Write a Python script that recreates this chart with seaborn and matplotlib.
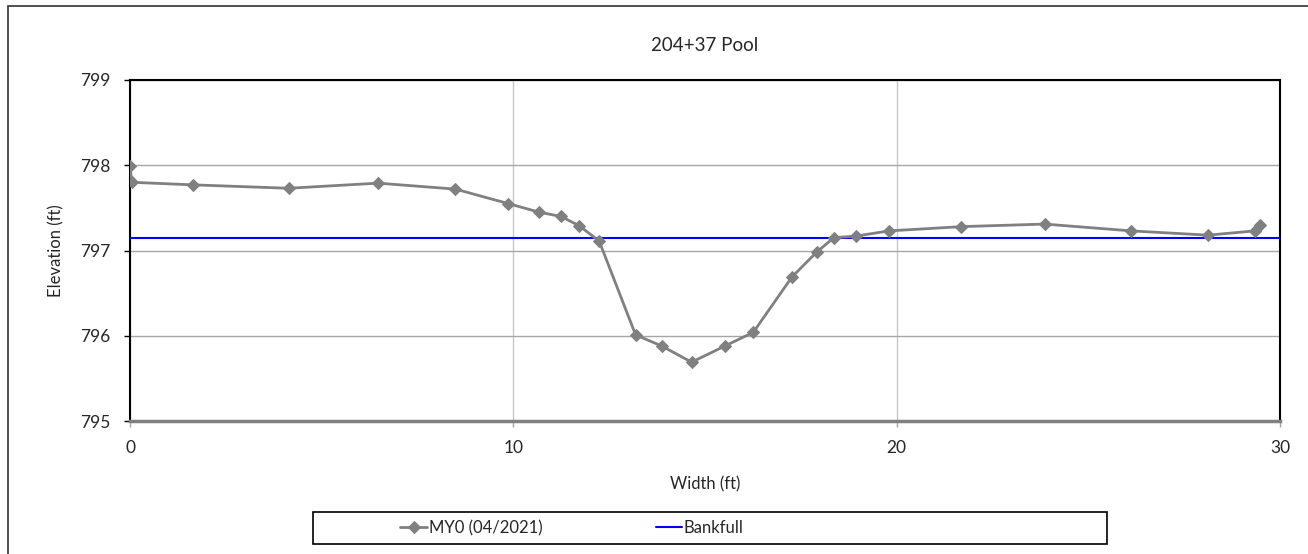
import seaborn as sns
import matplotlib.pyplot as plt
import pandas as pd
from matplotlib.patches import Rectangle

# cross section 204+37 pool, MY0 survey
width = [0.0, 0.05, 1.65, 4.14, 6.47, 8.49, 9.87, 10.67, 11.24, 11.72, 12.24,
         13.19, 13.87, 14.65, 15.52, 16.26, 17.27, 17.91, 18.36, 18.95, 19.80,
         21.69, 23.86, 26.12, 28.12, 29.34, 29.47]
elevation = [797.99, 797.80, 797.77, 797.73, 797.79, 797.72, 797.55, 797.45, 797.40, 797.29, 797.11,
             796.01, 795.88, 795.69, 795.88, 796.04, 796.69, 796.98, 797.15, 797.17, 797.23,
             797.28, 797.31, 797.23, 797.18, 797.23, 797.30]
bankfull_elev = 797.15
bankfull_x = [0, 30]
xticks = [0, 10, 20, 30]
yticks = [795, 796, 797, 798, 799]

df = pd.DataFrame({"Width": width, "Elevation": elevation})
bf = pd.DataFrame({"Width": bankfull_x, "Elevation": [bankfull_elev] * len(bankfull_x)})

sns.set_style("white")
plt.rcParams["font.family"] = ["Lato", "DejaVu Sans"]

fig, ax = plt.subplots(figsize=(13.08, 5.54), dpi=100)
fig.subplots_adjust(left=130/1308, right=1280/1308, top=1-80/554, bottom=1-421/554)

ax.grid(True, axis="y", color="#a6a6a6", linewidth=1.0)
ax.grid(True, axis="x", color="#c8c8c8", linewidth=1.0)
ax.set_axisbelow(True)

sns.lineplot(data=bf, x="Width", y="Elevation", color="#0000ff", linewidth=1.5,
             label="Bankfull", ax=ax, zorder=3)
sns.lineplot(data=df, x="Width", y="Elevation", color="#808080", linewidth=2.0,
             marker="D", markersize=6, markeredgecolor="#808080", sort=False,
             label="MY0 (04/2021)", ax=ax, zorder=4)

ax.set_xlim(0, 30)
ax.set_ylim(795, 799)
ax.set_xticks(xticks)
ax.set_yticks(yticks)

for s in ["left", "top", "right"]:
    ax.spines[s].set_color("black")
    ax.spines[s].set_linewidth(1.5)
ax.spines["bottom"].set_color("#808080")
ax.spines["bottom"].set_linewidth(2.5)

ax.tick_params(axis="y", left=True, length=4, width=1, color="black", pad=10, labelsize=12.5)
ax.tick_params(axis="x", bottom=True, length=4, width=1, color="#a6a6a6", pad=10, labelsize=12.5)

ax.set_title("204+37 Pool", fontdict={"size": 13.5}, pad=21)
ax.set_xlabel("Width (ft)", fontdict={"size": 12}, labelpad=14)
ax.set_ylabel("Elevation (ft)", fontdict={"size": 12}, labelpad=11)

handles, labels = ax.get_legend_handles_labels()
ax.get_legend().remove()
order = [labels.index("MY0 (04/2021)"), labels.index("Bankfull")]
fig.legend([handles[i] for i in order], [labels[i] for i in order],
           loc="center", ncol=2, bbox_to_anchor=(572/1308, 1-528/554),
           frameon=False, fontsize=12, handlelength=1.6,
           handletextpad=0.1, columnspacing=6.8, borderaxespad=0)

# legend box
fig.patches.append(Rectangle((313/1308, 1-544/554), (1107-313)/1308, 32/554,
                             transform=fig.transFigure, fill=False,
                             edgecolor="black", linewidth=1.2))

# chart area border
fig.patches.append(Rectangle((8/1308, -0.1), 1.2, 1-6/554 + 0.1, transform=fig.transFigure,
                             fill=False, edgecolor="#333333", linewidth=1.2, zorder=0))

fig.savefig("out.png", dpi=100)
